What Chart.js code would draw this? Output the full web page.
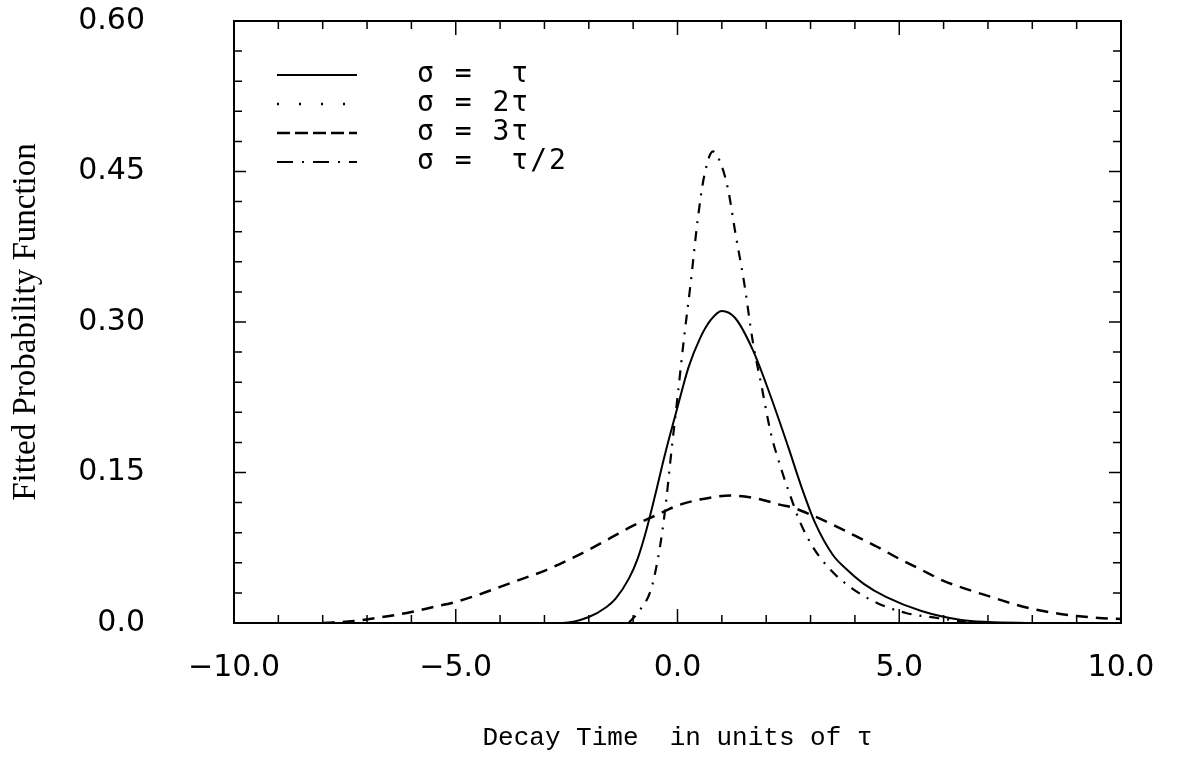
<!DOCTYPE html>
<html>
<head>
<meta charset="utf-8">
<script src="https://cdn.jsdelivr.net/npm/chart.js@4.4.1/dist/chart.umd.min.js"></script>
<style>
  html, body { margin: 0; padding: 0; background: #fff; }
  canvas { display: block; }
</style>
</head>
<body>
<canvas id="chart" width="1178" height="772"></canvas>
<script>
// legend labels, in the order of the legend
const seriesLabels = ['σ =  τ', 'σ = 2τ', 'σ = 3τ', 'σ =  τ/2'];

// sigma = tau (solid)
const tauX = [-3.0, -2.6, -2.0, -1.6, -1.4, -1.1, -0.9, -0.7, -0.5, -0.3, 0.0, 0.25, 0.5, 0.75, 1.0, 1.3, 1.7, 2.1, 2.5, 2.8, 3.1, 3.5, 3.8, 4.2, 4.7, 5.5, 6.4, 7.0, 8.0];
const tauY = [0.0, 0.0, 0.006, 0.016, 0.024, 0.044, 0.064, 0.093, 0.128, 0.165, 0.215, 0.255, 0.283, 0.302, 0.311, 0.304, 0.272, 0.226, 0.175, 0.135, 0.1, 0.068, 0.054, 0.039, 0.026, 0.012, 0.003, 0.001, 0.0];

// sigma = 2 tau (dotted) - no curve visible in the figure
const tau2X = [];
const tau2Y = [];

// sigma = 3 tau (dashed, wide)
const tau3X = [-8.0, -7.3, -6.5, -6.0, -5.5, -5.0, -4.5, -4.0, -3.5, -3.0, -2.5, -2.0, -1.5, -1.0, -0.5, 0.0, 0.5, 1.2, 1.8, 2.3, 2.6, 3.0, 3.5, 4.0, 4.5, 5.0, 5.5, 6.0, 6.5, 7.0, 7.5, 8.0, 8.5, 9.0, 9.5, 10.0];
const tau3Y = [0.0, 0.002, 0.007, 0.011, 0.016, 0.021, 0.028, 0.036, 0.044, 0.052, 0.062, 0.073, 0.085, 0.097, 0.107, 0.117, 0.123, 0.127, 0.124, 0.118, 0.115, 0.108, 0.098, 0.087, 0.076, 0.064, 0.053, 0.042, 0.034, 0.027, 0.02, 0.014, 0.01, 0.007, 0.005, 0.004];

// sigma = tau/2 (dash-dot, tall)
const halfX = [-1.1, -0.9, -0.6, -0.45, -0.34, -0.25, -0.14, 0.0, 0.15, 0.3, 0.45, 0.6, 0.8, 1.0, 1.15, 1.3, 1.5, 1.7, 1.9, 2.1, 2.35, 2.55, 2.75, 3.05, 3.45, 3.95, 4.5, 5.15, 5.85, 6.5];
const halfY = [0.0, 0.01, 0.033, 0.062, 0.092, 0.124, 0.17, 0.225, 0.285, 0.34, 0.4, 0.445, 0.47, 0.455, 0.43, 0.39, 0.34, 0.28, 0.235, 0.19, 0.152, 0.126, 0.102, 0.076, 0.053, 0.034, 0.02, 0.01, 0.005, 0.001];

// axis tick labels
const xTickValues = [-10, -5, 0, 5, 10];
const xTickLabels = ['\u221210.0', '\u22125.0', '0.0', '5.0', '10.0'];
const yTickValues = [0, 0.15, 0.30, 0.45, 0.60];
const yTickLabels = ['0.0', '0.15', '0.30', '0.45', '0.60'];

const toPoints = (xs, ys) => xs.map((x, i) => ({ x: x, y: ys[i] }));

const tickFont = { family: 'DejaVu Sans', size: 30 };

// box around the plot plus inward tick marks on all four sides
const framePlugin = {
  id: 'frame',
  afterDatasetsDraw(chart) {
    const { ctx, chartArea: a, scales } = chart;
    ctx.save();
    ctx.strokeStyle = '#000';
    ctx.lineWidth = 2;
    ctx.strokeRect(a.left, a.top, a.right - a.left, a.bottom - a.top);
    ctx.lineWidth = 1.5;
    ctx.beginPath();
    for (let v = -10; v <= 10; v++) {
      const px = scales.x.getPixelForValue(v);
      const len = v % 5 === 0 ? 14 : 8;
      ctx.moveTo(px, a.bottom); ctx.lineTo(px, a.bottom - len);
      ctx.moveTo(px, a.top); ctx.lineTo(px, a.top + len);
    }
    for (let k = 0; k <= 20; k++) {
      const py = scales.y.getPixelForValue(k * 0.03);
      const len = k % 5 === 0 ? 12 : 8;
      ctx.moveTo(a.left, py); ctx.lineTo(a.left + len, py);
      ctx.moveTo(a.right, py); ctx.lineTo(a.right - len, py);
    }
    ctx.stroke();
    ctx.restore();
  }
};

// legend drawn inside the plot, top-left
const insideLegend = {
  id: 'insideLegend',
  afterDraw(chart) {
    const { ctx, chartArea: a } = chart;
    ctx.save();
    ctx.font = '28px "DejaVu Sans Mono"';
    ctx.letterSpacing = '2px';
    ctx.fillStyle = '#000';
    ctx.textBaseline = 'middle';
    chart.data.datasets.forEach((ds, i) => {
      const y = a.top + 54 + i * 29;
      ctx.strokeStyle = '#000';
      ctx.lineWidth = ds.borderWidth;
      ctx.setLineDash(ds.legendDash || ds.borderDash || []);
      ctx.beginPath();
      ctx.moveTo(a.left + 43, y);
      ctx.lineTo(a.left + 123, y);
      ctx.stroke();
      ctx.setLineDash([]);
      ctx.fillText(ds.label, a.left + 183, y);
    });
    ctx.restore();
  }
};

const canvas = document.getElementById('chart');
const ctx = canvas.getContext('2d');

const chart = new Chart(ctx, {
  type: 'line',
  data: {
    datasets: [
      {
        label: seriesLabels[0],
        data: toPoints(tauX, tauY),
        borderColor: '#000',
        borderWidth: 2,
        cubicInterpolationMode: 'monotone'
      },
      {
        label: seriesLabels[1],
        data: toPoints(tau2X, tau2Y),
        borderColor: '#000',
        borderWidth: 2.5,
        borderDash: [2, 20],
        cubicInterpolationMode: 'monotone'
      },
      {
        label: seriesLabels[2],
        data: toPoints(tau3X, tau3Y),
        borderColor: '#000',
        borderWidth: 2.5,
        borderDash: [12, 8],
        legendDash: [13, 5],
        cubicInterpolationMode: 'monotone'
      },
      {
        label: seriesLabels[3],
        data: toPoints(halfX, halfY),
        borderColor: '#000',
        borderWidth: 2.2,
        borderDash: [10, 8, 2, 8],
        legendDash: [16, 9, 2, 9],
        cubicInterpolationMode: 'monotone'
      }
    ]
  },
  options: {
    responsive: false,
    animation: false,
    layout: { padding: { top: 18, right: 57, left: 0, bottom: 0 } },
    elements: { point: { radius: 0 } },
    plugins: {
      legend: { display: false },
      tooltip: { enabled: false }
    },
    scales: {
      x: {
        type: 'linear',
        min: -10,
        max: 10,
        afterBuildTicks: s => { s.ticks = xTickValues.map(v => ({ value: v })); },
        afterFit: s => { s.height = 149; },
        // invisible tick marks, only used to push the labels away from the axis
        grid: { display: false, drawTicks: true, tickLength: 25 },
        border: { display: false },
        ticks: {
          color: '#000',
          font: tickFont,
          padding: 2,
          maxRotation: 0,
          autoSkip: false,
          callback: (v, i) => xTickLabels[i]
        },
        title: {
          display: true,
          text: 'Decay Time  in units of τ',
          color: '#000',
          font: { family: 'Liberation Mono', size: 26 },
          padding: { top: 0, bottom: 18 }
        }
      },
      y: {
        min: 0,
        max: 0.6,
        afterBuildTicks: s => { s.ticks = yTickValues.map(v => ({ value: v })); },
        afterFit: s => { s.width = 234; },
        grid: { display: false, drawTicks: true, tickLength: 86 },
        border: { display: false },
        ticks: {
          color: '#000',
          font: tickFont,
          padding: 3,
          autoSkip: false,
          callback: (v, i) => yTickLabels[i]
        },
        title: {
          display: true,
          text: 'Fitted Probability Function',
          color: '#000',
          font: { family: 'Liberation Serif', size: 33 },
          padding: { top: 7, bottom: 0 }
        }
      }
    }
  },
  plugins: [framePlugin, insideLegend]
});
</script>
</body>
</html>
